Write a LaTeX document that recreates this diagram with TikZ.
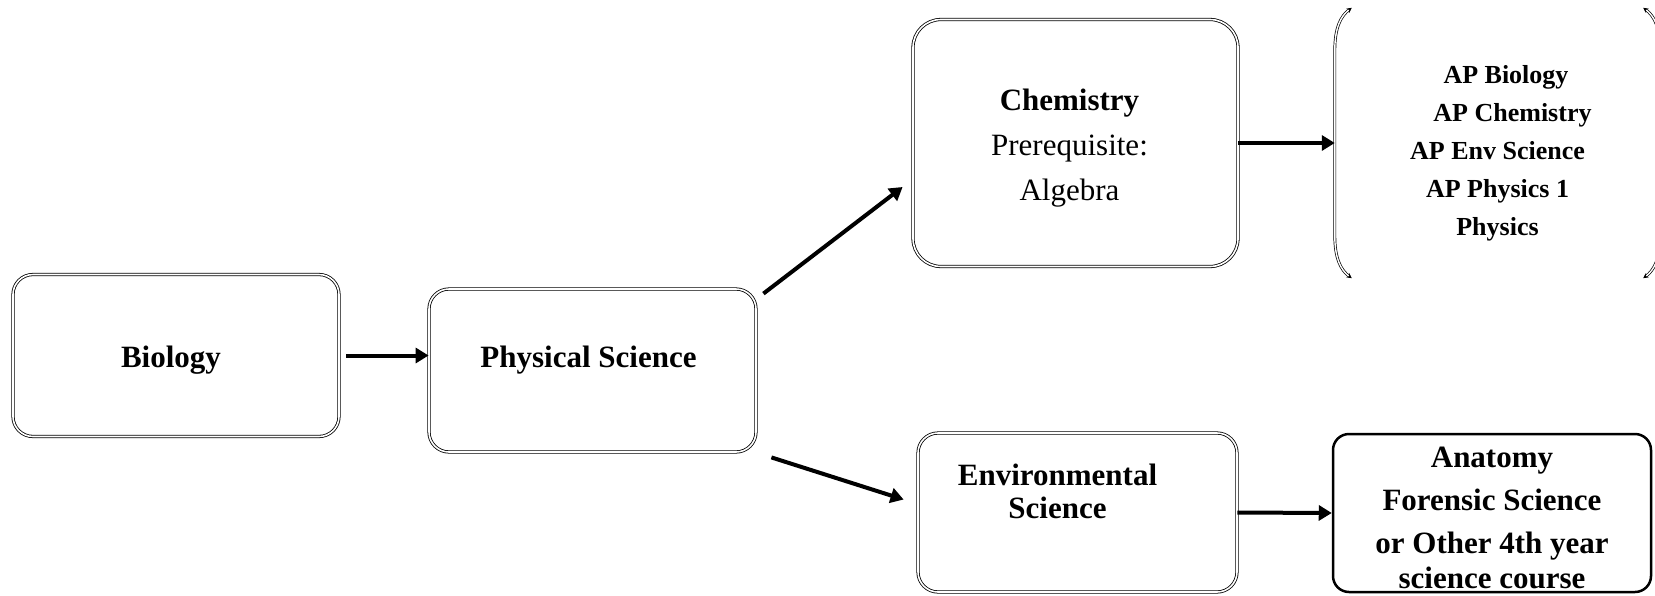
\documentclass[tikz,border=0pt]{standalone}
\usepackage{fontspec}
\setmainfont{Liberation Serif}
\usetikzlibrary{arrows.meta}

\tikzset{
  dbox/.style={draw, double, double distance=1.6pt, line width=0.8pt, rounded corners=20pt, inner sep=0pt},
  bold/.style={font=\fontsize{31}{45}\selectfont\bfseries},
  plain/.style={font=\fontsize{31}{45}\selectfont},
  arr/.style={line width=4pt, -{Triangle[length=13pt,width=15pt]}},
  brk/.style={double, double distance=1.4pt, line width=0.7pt, {Stealth[length=5pt,width=5pt]}-{Stealth[length=5pt,width=5pt]}}
}

\begin{document}
\begin{tikzpicture}[x=1pt,y=-1pt]
\useasboundingbox (0,0) rectangle (1655,595);

% boxes
\node[dbox, minimum width=326pt, minimum height=162pt,
      label={[bold, shift={(-5pt,-5pt)}]center:Biology}] (bio) at (176,355.5) {};
\node[dbox, minimum width=327pt, minimum height=163pt,
      label={[bold, shift={(-4pt,10pt)}]center:Physical Science}] (phys) at (592.5,370.5) {};
\node[dbox, rounded corners=28pt, minimum width=325pt, minimum height=247pt,
      label={[plain, align=center, shift={(-6pt,-5pt)}]center:\textbf{Chemistry}\\Prerequisite:\\Algebra}] (chem) at (1075.5,143) {};
\node[dbox, minimum width=319pt, minimum height=159pt,
      label={[font=\fontsize{31}{33}\selectfont\bfseries, align=center, shift={(-20pt,21pt)}]center:Environmental\\Science}] (env) at (1077.5,512.5) {};
\node[draw, line width=2.5pt, rounded corners=16pt, minimum width=318pt, minimum height=158pt, inner sep=0pt,
      label={[font=\fontsize{31}{43}\selectfont\bfseries, align=center, yshift=-5pt]center:Anatomy\\Forensic Science\\or Other 4th year\\[-8pt]science course}] (anat) at (1492,513) {};

% AP courses between brackets
\node[minimum width=325pt, minimum height=270pt,
      label={[font=\fontsize{26}{38}\selectfont\bfseries, align=center, yshift=-10pt]center:\hspace*{17pt}AP Biology\\\hspace*{30pt}AP Chemistry\\AP Env Science\\AP Physics 1\\Physics}] (ap) at (1497.5,143) {};
\draw[brk] ([xshift=17pt]ap.north west) .. controls ([shift={(6pt,-8pt)}]ap.north west) and ([yshift=-20pt]ap.north west) .. ([yshift=-42pt]ap.north west)
  -- ([yshift=42pt]ap.south west) .. controls ([yshift=20pt]ap.south west) and ([shift={(6pt,8pt)}]ap.south west) .. ([xshift=17pt]ap.south west);
\draw[brk] ([xshift=-17pt]ap.north east) .. controls ([shift={(-6pt,-8pt)}]ap.north east) and ([yshift=-20pt]ap.north east) .. ([yshift=-42pt]ap.north east)
  -- ([yshift=42pt]ap.south east) .. controls ([yshift=20pt]ap.south east) and ([shift={(-6pt,8pt)}]ap.south east) .. ([xshift=-17pt]ap.south east);

% arrows
\draw[arr] ([xshift=7pt]bio.east) -- (phys.west |- bio.east);
\draw[arr] ([shift={(7pt,-5pt)}]phys.north east) -- ([shift={(-10pt,-44pt)}]chem.west);
\draw[arr] ([shift={(15pt,-5pt)}]phys.south east) -- ([shift={(-14pt,13pt)}]env.west);
\draw[arr] (chem.east) -- (ap.west);
\draw[arr] (env.east) -- (anat.west);
\end{tikzpicture}
\end{document}
